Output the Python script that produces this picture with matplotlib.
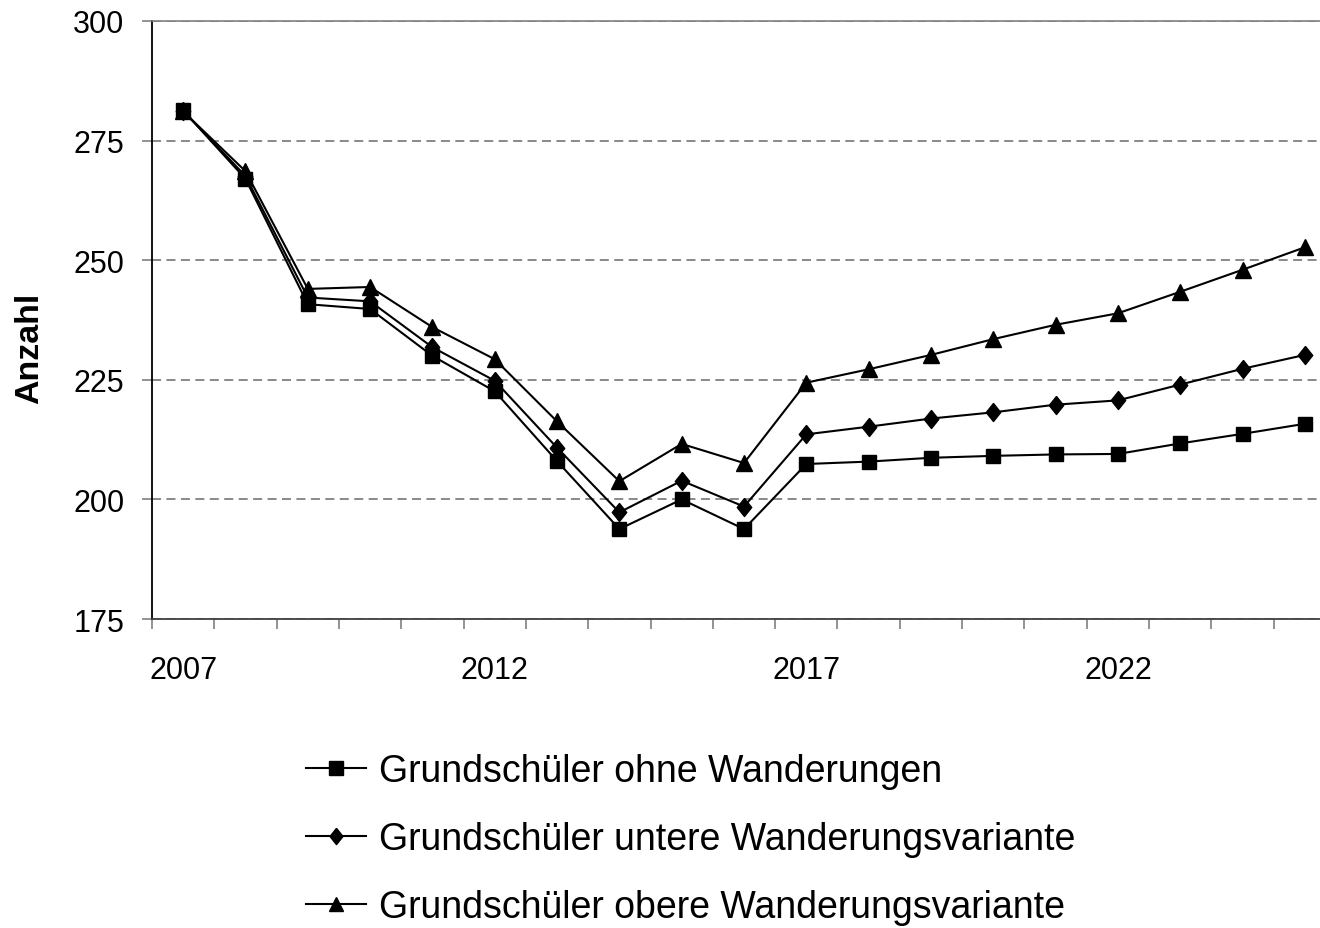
import matplotlib.pyplot as plt
import numpy as np

plt.rcParams['font.family'] = ['Liberation Sans', 'DejaVu Sans']

# Data
# ----------------------------------------------------------------------------

years = list(range(2007, 2026))
label_years = [2007, 2012, 2017, 2022]

ohne = [281.3, 267.0, 240.8, 239.8, 230.0, 222.6, 208.0, 193.8, 200.0, 193.8,
        207.4, 207.9, 208.7, 209.1, 209.4, 209.5, 211.7, 213.7, 215.8]
untere = [281.2, 267.6, 242.2, 241.4, 231.8, 224.8, 210.8, 197.3, 203.9, 198.5,
          213.6, 215.2, 216.9, 218.2, 219.8, 220.7, 224.0, 227.3, 230.2]
obere = [281.1, 268.6, 244.0, 244.4, 236.0, 229.3, 216.3, 203.8, 211.6, 207.6,
         224.4, 227.2, 230.2, 233.5, 236.5, 238.9, 243.4, 248.0, 252.7]

labels = ['Grundschüler ohne Wanderungen',
          'Grundschüler untere Wanderungsvariante',
          'Grundschüler obere Wanderungsvariante']

# slightly tall diamond like the spreadsheet marker
diamond = [(0, 1), (0.8, 0), (0, -1), (-0.8, 0), (0, 1)]

# Plot
# ----------------------------------------------------------------------------

fig = plt.figure(figsize=(13.2, 9.29), dpi=100)
ax = fig.add_axes([152 / 1320, 1 - 620 / 929, 1184 / 1320, 598 / 929])

ax.plot(years, ohne, color='black', lw=1.5, marker='s', ms=10.5, label=labels[0])
ax.plot(years, untere, color='black', lw=1.5, marker=diamond, ms=13, label=labels[1])
ax.plot(years, obere, color='black', lw=1.5, marker='^', ms=11, label=labels[2])

ax.set_xlim(2006.5, 2025.5)
ax.set_ylim(175, 300)
ax.set_yticks([175, 200, 225, 250, 275, 300])
ax.yaxis.grid(True, color='#808080', lw=1.3, linestyle=(0, (5, 3)))
ax.set_axisbelow(True)

# category boundaries carry the tick marks, the labels sit at the years
ax.set_xticks(np.arange(2006.5, 2026, 1.0), minor=True)
ax.set_xticks(label_years)
ax.set_xticklabels([str(y) for y in label_years])
ax.tick_params(axis='x', which='major', length=0, pad=26, labelsize=22)
ax.tick_params(axis='x', which='minor', length=7, width=1.2, color='#808080')
ax.tick_params(axis='y', length=7, width=1.2, color='#808080', pad=13, labelsize=22)

ax.spines['right'].set_visible(False)
ax.spines['top'].set_color('#808080')
ax.spines['top'].set_linewidth(1.2)
ax.spines['left'].set_color('black')
ax.spines['left'].set_linewidth(1.3)
ax.spines['bottom'].set_color('#404040')
ax.spines['bottom'].set_linewidth(1.3)

ax.set_ylabel('Anzahl', fontsize=24.5, fontweight='bold')
ax.yaxis.set_label_coords(-107 / 1184, (620 - 348) / 598)

fig.legend(loc='upper left', bbox_to_anchor=(306 / 1320, 1 - 754 / 929),
           frameon=False, fontsize=27, markerscale=0.9, handlelength=1.6,
           handletextpad=0.35, labelspacing=0.85, borderpad=0, borderaxespad=0)

fig.savefig('out.png', dpi=100)
